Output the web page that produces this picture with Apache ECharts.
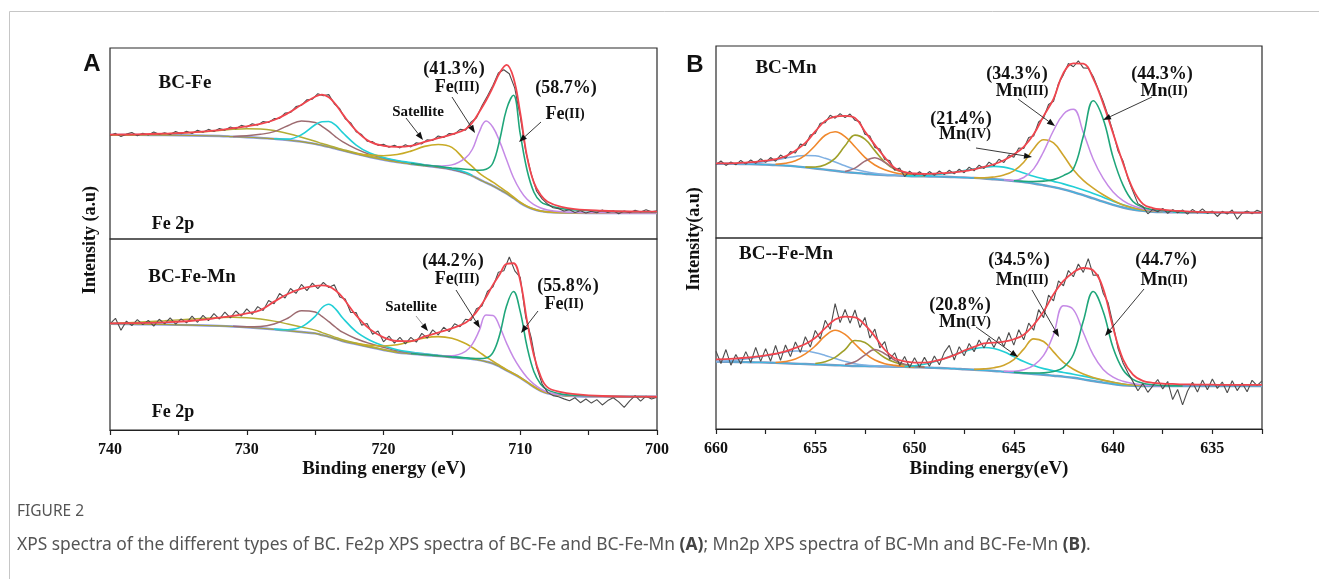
<!DOCTYPE html>
<html>
<head>
<meta charset="utf-8">
<script src="https://cdn.jsdelivr.net/npm/echarts@6.0.0/dist/echarts.min.js"></script>
<style>
  html, body { margin: 0; padding: 0; background: #fff; }
  #main { width: 1319px; height: 579px; }
</style>
</head>
<body>
<div id="main"></div>
<script>
// ---------------- data (intensity in % of each sub-panel height) ----------------
// Fe 2p fit curves, binding energy grid (eV)
var energyA = [740,738,736,734,732,731,730,729,728,727,726,725,724.5,724,723.5,723,722,721,720,719,718,717,716,715,714,713.5,713,712.5,712,711.5,711,710.5,710,709.5,709,708.5,708,707,706,704,702,700];

// BC-Fe (upper)
var bgA1    = [54.5,54.5,54.4,54.2,53.9,53.6,53.3,52.9,52.4,51.8,51.0,49.8,49.0,48.2,47.3,46.4,44.6,42.9,41.5,40.3,39.3,38.4,37.5,36.4,34.5,33.0,31.2,29.5,27.8,25.8,23.8,21.4,18.9,16.9,15.5,14.6,14.1,13.8,13.7,13.6,13.6,13.6];
var oliveA1 = [54.5,54.6,55.0,55.7,56.8,57.4,57.7,57.6,56.8,55.2,53.3,51.2,50.0,49.0,47.9,46.9,45.0,43.3,41.8,40.5,39.4,38.4,null,null,null,null,null,null,null,null,null,null,null,null,null,null,null,null,null,null,null,null];
var brownA1 = [null,null,null,null,null,53.7,54.0,54.8,56.2,59.3,61.8,61.0,59.0,56.5,53.5,51.0,47.2,44.3,42.4,40.9,39.7,38.6,37.7,36.5,34.6,null,null,null,null,null,null,null,null,null,null,null,null,null,null,null,null,null];
var cyanA1  = [null,null,null,null,null,null,null,null,52.5,52.3,54.6,59.8,61.4,61.5,59.6,55.8,49.2,45.0,42.7,41.1,40.0,38.9,38.0,36.8,35.0,33.3,null,null,null,null,null,null,null,null,null,null,null,null,null,null,null,null];
var satA1   = [null,null,null,null,null,null,null,null,null,null,null,null,null,null,null,null,44.8,44.0,43.6,44.2,46.0,48.5,49.5,48.0,41.0,37.9,34.5,32.0,29.8,27.3,24.8,22.0,19.3,17.2,15.7,14.7,14.2,13.8,13.7,13.6,13.6,13.6];
var fe3A1   = [null,null,null,null,null,null,null,null,null,null,null,null,null,null,null,null,null,null,null,null,39.5,38.8,38.2,38.8,42.5,47.0,56.0,61.8,58.5,51.0,41.5,32.2,25.5,20.8,18.0,16.2,15.2,14.3,13.9,13.7,13.6,13.6];
var fe2A1   = [null,null,null,null,null,null,null,null,null,null,null,null,null,null,null,null,null,null,null,null,39.5,38.7,38.0,37.2,36.5,36.2,36.0,36.5,39.8,52.0,68.0,75.3,55.0,36.0,24.5,19.5,17.8,16.0,15.2,14.6,14.3,14.2];
var fitA1   = [54.6,54.8,55.2,55.8,57.0,58.0,59.0,60.3,62.3,65.8,70.3,74.5,75.6,74.2,70.5,65.5,56.8,51.0,48.8,48.2,48.7,50.8,52.8,54.8,57.5,61.0,66.5,72.5,79.5,87.0,91.2,84.5,66.0,43.0,29.5,23.0,19.5,16.8,15.6,14.8,14.4,14.3];

// BC-Fe-Mn (lower)
var bgA2    = [55.6,55.4,55.2,54.9,54.5,54.2,53.8,53.3,52.7,52.0,51.3,50.6,49.7,48.8,47.7,46.6,45.0,43.4,41.9,40.6,39.9,39.3,38.7,38.1,37.5,37.1,36.6,35.8,34.8,33.2,31.2,29.4,27.4,25.0,22.5,20.5,19.2,18.1,17.7,17.5,17.4,17.4];
var oliveA2 = [55.8,56.4,57.2,58.1,58.8,59.0,58.8,58.1,57.0,55.5,53.9,52.3,51.0,49.8,48.5,47.3,45.5,43.8,42.2,40.8,null,null,null,null,null,null,null,null,null,null,null,null,null,null,null,null,null,null,null,null,null,null];
var brownA2 = [null,null,null,null,null,54.3,54.1,54.2,55.5,58.5,62.5,61.8,59.5,56.7,53.8,51.2,47.8,45.3,43.3,41.5,40.5,39.7,39.0,38.3,37.6,null,null,null,null,null,null,null,null,null,null,null,null,null,null,null,null,null];
var cyanA2  = [null,null,null,null,null,null,null,null,52.8,52.5,54.0,59.5,64.0,65.8,63.3,58.8,51.5,47.0,44.1,42.0,40.8,39.9,39.1,38.4,37.7,37.2,null,null,null,null,null,null,null,null,null,null,null,null,null,null,null,null];
var satA2   = [null,null,null,null,null,null,null,null,null,null,null,null,null,null,null,null,45.3,44.4,44.0,44.6,46.4,48.2,48.9,48.0,45.3,43.2,40.8,38.3,36.0,33.8,31.6,29.6,27.5,25.2,22.8,20.7,19.4,18.2,17.8,17.5,17.4,17.4];
var fe3A2   = [null,null,null,null,null,null,null,null,null,null,null,null,null,null,null,null,null,null,null,null,40.3,39.6,39.0,38.9,41.2,45.0,52.0,60.2,60.0,54.0,45.5,38.0,32.2,27.5,24.0,21.5,19.8,18.3,17.8,17.5,17.4,17.4];
var fe2A2   = [null,null,null,null,null,null,null,null,null,null,null,null,null,null,null,null,null,null,null,null,40.1,39.5,38.9,38.3,37.8,37.5,37.4,37.7,40.5,50.0,65.0,72.5,62.0,43.5,30.5,24.0,21.0,18.8,18.1,17.7,17.5,17.4];
var fitA2   = [55.8,56.0,56.4,57.2,58.8,59.8,61.0,62.8,67.2,71.2,74.0,75.4,75.7,75.2,73.0,69.5,60.0,52.8,48.5,46.6,46.5,49.0,51.0,53.2,56.2,59.3,63.8,69.5,76.0,81.5,87.0,87.3,78.0,57.0,39.0,28.0,22.3,19.8,18.8,17.8,17.5,17.4];

// measured Fe 2p counts, 740 -> 700 eV every 0.4 eV
var rawA1 = [54.2,55.3,53.6,54.9,55.8,54.1,55.4,54.5,56.0,54.8,55.6,54.7,56.3,55.1,56.4,55.2,56.9,55.9,57.4,56.3,
             57.8,57.0,58.6,57.7,59.5,58.6,60.3,59.6,61.5,61.0,63.0,63.1,65.9,66.2,69.3,70.0,72.9,73.2,76.1,75.0,
             75.6,70.8,68.2,62.9,60.8,56.2,54.7,51.2,51.0,49.0,49.6,48.0,49.1,47.7,49.3,48.2,50.4,49.8,52.0,51.6,
             53.9,53.1,55.2,54.9,57.4,57.0,61.2,63.5,69.8,74.9,80.4,86.9,88.6,86.5,79.0,64.2,46.0,34.1,25.0,21.0,
             18.3,16.4,15.9,14.7,15.3,13.9,14.8,13.6,14.5,13.7,15.2,13.9,14.8,13.2,14.6,13.8,15.0,14.1,15.3,14.2,14.8];
var rawA2 = [55.6,58.5,52.2,57.0,54.7,57.8,55.2,57.4,54.4,58.0,55.6,58.7,55.4,58.2,56.1,59.6,56.4,60.0,57.3,60.9,
             58.1,61.7,58.7,62.3,59.6,63.4,60.5,64.6,62.6,67.8,66.1,71.5,69.1,74.1,71.5,76.2,73.0,76.9,74.0,77.3,
             74.6,76.0,69.6,68.6,61.5,61.5,54.9,55.8,50.1,51.8,46.2,49.2,45.5,48.5,45.1,48.5,46.0,50.6,48.1,52.4,
             49.8,53.8,51.5,55.6,54.1,58.0,57.4,63.5,64.9,72.5,74.9,82.6,83.4,90.6,83.3,79.9,59.0,48.4,32.8,24.1,
             19.7,18.0,17.4,16.3,15.3,16.9,14.3,16.2,14.1,15.9,13.1,15.4,16.9,14.7,11.9,15.3,18.0,15.1,17.7,16.2,17.1];

// Mn 2p fit curves, 660 -> 632.5 eV every 0.5 eV
var energyB = [660,659.5,659,658.5,658,657.5,657,656.5,656,655.5,655,654.5,654,653.5,653,652.5,652,651.5,651,650.5,650,649.5,649,648.5,648,647.5,647,646.5,646,645.5,645,644.5,644,643.5,643,642.5,642,641.5,641,640.5,640,639.5,639,638.5,638,637.5,637,636.5,636,635.5,635,634.5,634,633.5,633,632.5];

// BC-Mn (upper)
var bgB1  = [38.7,38.7,38.6,38.5,38.4,38.2,38.0,37.7,37.3,36.8,36.2,35.6,35.0,34.4,33.9,33.5,33.1,32.8,32.6,32.4,32.2,32.1,32.0,31.9,31.7,31.5,31.3,31.0,30.6,30.2,29.7,29.1,28.4,27.5,26.5,25.3,23.9,22.3,20.6,18.9,17.3,15.9,14.8,14.1,13.7,13.5,13.4,13.3,13.3,13.2,13.2,13.2,13.2,13.2,13.2,13.2];
var lbB1  = [38.7,38.7,38.7,38.8,39.2,39.8,40.6,41.6,42.5,43.0,42.8,41.5,39.6,37.6,35.8,34.6,33.7,33.1,32.8,32.5,null,null,null,null,null,null,null,null,null,null,null,null,null,null,null,null,null,null,null,null,null,null,null,null,null,null,null,null,null,null,null,null,null,null,null,null];
var orB1  = [null,null,null,null,null,null,38.4,38.9,40.2,43.2,48.2,53.5,55.3,52.8,47.5,42.0,38.0,35.5,34.0,33.2,32.7,32.4,null,null,null,null,null,null,null,null,null,null,null,null,null,null,null,null,null,null,null,null,null,null,null,null,null,null,null,null,null,null,null,null,null,null];
var olB1  = [null,null,null,null,null,null,null,null,null,36.9,37.0,38.2,41.5,48.0,53.6,51.5,45.5,39.5,35.8,34.0,33.0,32.5,null,null,null,null,null,null,null,null,null,null,null,null,null,null,null,null,null,null,null,null,null,null,null,null,null,null,null,null,null,null,null,null,null,null];
var mvB1  = [null,null,null,null,null,null,null,null,null,null,null,null,null,34.6,36.4,40.0,41.8,39.4,36.2,34.2,33.1,32.5,null,null,null,null,null,null,null,null,null,null,null,null,null,null,null,null,null,null,null,null,null,null,null,null,null,null,null,null,null,null,null,null,null,null];
var cyB1  = [null,null,null,null,null,null,null,null,null,null,null,null,null,null,null,null,null,null,null,32.4,32.4,32.6,33.0,33.5,34.2,35.1,36.0,36.8,37.3,36.9,35.6,33.9,32.2,30.8,29.5,28.2,26.7,25.0,23.2,21.2,19.2,17.3,15.8,14.8,14.2,13.8,13.6,13.4,null,null,null,null,null,null,null,null];
var mn4B1 = [null,null,null,null,null,null,null,null,null,null,null,null,null,null,null,null,null,null,null,null,null,null,null,null,null,null,31.3,31.3,31.8,32.8,35.0,39.5,46.5,51.2,49.5,43.0,35.5,30.0,26.0,22.5,19.6,17.2,15.6,14.6,14.1,13.7,null,null,null,null,null,null,null,null,null,null];
var mn3B1 = [null,null,null,null,null,null,null,null,null,null,null,null,null,null,null,null,null,null,null,null,null,null,null,null,null,null,null,null,null,30.3,30.0,31.5,36.0,45.0,56.0,64.5,67.0,55.0,41.0,31.0,24.0,19.5,16.8,15.2,14.3,13.8,13.6,null,null,null,null,null,null,null,null,null];
var mn2B1 = [null,null,null,null,null,null,null,null,null,null,null,null,null,null,null,null,null,null,null,null,null,null,null,null,null,null,null,null,null,null,29.8,29.5,29.4,29.6,30.4,32.5,36.0,53.0,71.5,62.0,42.0,27.5,19.0,16.0,14.8,14.2,13.9,13.6,13.5,13.4,13.3,null,null,null,null,null];
var fitB1 = [38.9,38.9,39.0,39.3,39.7,40.3,41.1,42.6,45.5,49.5,55.5,61.0,63.2,63.6,62.5,55.5,48.5,42.0,36.5,34.3,33.6,33.4,33.5,33.8,34.2,34.8,35.8,37.0,38.4,40.5,43.5,47.5,54.0,63.5,72.5,86.0,91.0,90.8,83.0,70.0,54.5,39.0,25.5,17.8,15.6,14.8,14.3,14.0,13.7,13.5,13.4,13.3,13.3,13.2,13.2,13.2];

// BC--Fe-Mn (lower)
var bgB2  = [35.3,35.2,35.1,35.0,34.9,34.8,34.6,34.4,34.2,34.0,33.8,33.6,33.4,33.2,33.0,32.9,32.8,32.7,32.6,32.5,32.3,32.2,32.0,31.8,31.6,31.3,31.0,30.7,30.4,30.0,29.6,29.2,28.8,28.4,27.9,27.4,26.8,26.0,25.1,24.3,23.5,22.9,22.6,22.5,22.5,22.5,22.5,22.5,22.5,22.5,22.5,22.5,22.5,22.5,22.5,22.5];
var lbB2  = [35.4,35.6,36.0,36.6,37.4,38.3,39.3,40.3,40.9,40.8,39.9,38.5,36.9,35.4,34.2,33.5,33.1,32.9,32.7,32.6,null,null,null,null,null,null,null,null,null,null,null,null,null,null,null,null,null,null,null,null,null,null,null,null,null,null,null,null,null,null,null,null,null,null,null,null];
var orB2  = [null,null,null,null,null,null,34.8,35.3,36.6,39.3,43.5,48.7,51.7,49.5,44.5,39.6,36.1,34.2,33.3,32.8,32.4,null,null,null,null,null,null,null,null,null,null,null,null,null,null,null,null,null,null,null,null,null,null,null,null,null,null,null,null,null,null,null,null,null,null,null];
var olB2  = [null,null,null,null,null,null,null,null,null,null,34.3,35.2,37.5,41.6,46.3,45.3,41.2,37.3,34.9,33.6,32.9,32.3,null,null,null,null,null,null,null,null,null,null,null,null,null,null,null,null,null,null,null,null,null,null,null,null,null,null,null,null,null,null,null,null,null,null];
var mvB2  = [null,null,null,null,null,null,null,null,null,null,null,null,null,33.8,35.2,38.7,41.6,39.4,36.0,33.9,32.9,32.3,null,null,null,null,null,null,null,null,null,null,null,null,null,null,null,null,null,null,null,null,null,null,null,null,null,null,null,null,null,null,null,null,null,null];
var cyB2  = [null,null,null,null,null,null,null,null,null,null,null,null,null,null,null,null,null,null,null,32.7,33.1,33.9,35.2,36.9,38.8,40.6,42.0,42.7,42.1,40.4,37.9,35.3,33.2,31.6,30.5,29.6,28.7,27.7,26.6,25.5,24.5,23.6,23.0,22.7,null,null,null,null,null,null,null,null,null,null,null,null];
var mn4B2 = [null,null,null,null,null,null,null,null,null,null,null,null,null,null,null,null,null,null,null,null,null,null,null,null,null,null,31.2,31.5,32.1,33.4,36.3,41.8,47.2,45.8,40.4,34.9,31.3,28.8,27.0,25.6,24.5,23.6,23.0,22.7,null,null,null,null,null,null,null,null,null,null,null,null];
var mn3B2 = [null,null,null,null,null,null,null,null,null,null,null,null,null,null,null,null,null,null,null,null,null,null,null,null,null,null,null,null,null,30.2,30.2,31.0,33.3,38.5,49.5,64.5,62.5,50.5,38.8,31.2,27.2,25.0,23.8,23.1,22.8,22.6,null,null,null,null,null,null,null,null,null,null];
var mn2B2 = [null,null,null,null,null,null,null,null,null,null,null,null,null,null,null,null,null,null,null,null,null,null,null,null,null,null,null,null,null,null,29.7,29.4,29.3,29.4,30.1,32.3,39.0,56.5,72.0,61.5,42.5,31.0,26.0,24.0,23.2,22.8,22.7,22.6,null,null,null,null,null,null,null,null];
var fitB2 = [36.5,36.6,36.9,37.3,37.9,38.6,39.4,40.6,42.5,44.5,47.8,52.8,57.3,58.8,58.5,54.5,48.5,41.5,37.0,35.4,34.8,34.8,35.5,36.8,38.7,41.0,43.0,44.8,45.2,45.7,47.0,49.4,54.5,61.5,70.5,77.5,82.0,84.3,83.0,73.5,53.0,36.5,28.5,25.2,24.2,23.8,23.6,23.4,23.3,23.2,23.2,23.1,23.1,23.1,23.1,23.1];

// measured Mn 2p counts, 660 -> 632.5 eV every 0.25 eV
var rawB1 = [38.2,40.1,37.8,39.6,38.1,40.4,38.5,40.6,38.9,41.3,39.4,41.9,40.0,43.2,41.5,45.0,44.3,48.9,48.2,53.6,
             54.4,59.8,60.1,63.9,62.4,64.8,62.7,64.6,61.3,60.5,54.0,53.1,47.2,46.4,40.9,40.3,35.3,36.4,32.0,34.8,
             32.6,34.5,32.4,34.6,32.7,34.9,33.0,35.3,33.4,35.8,34.0,36.9,35.0,37.9,36.2,39.5,37.6,41.0,39.3,43.2,
             42.0,46.9,46.6,52.3,53.1,60.4,62.6,69.5,71.2,80.5,85.1,90.9,89.2,92.3,88.6,88.4,84.1,77.6,71.3,63.6,
             55.2,45.3,40.1,31.0,24.3,17.9,16.4,12.6,14.9,13.7,15.4,12.9,14.8,13.1,14.6,12.4,14.9,13.0,15.2,12.8,
             14.0,11.2,13.9,12.5,14.6,9.8,12.9,14.1,12.6,14.5,13.4];
var rawB2 = [40.7,34.3,41.6,33.4,39.0,34.1,40.5,34.8,42.7,35.4,42.1,35.5,43.7,35.9,44.0,37.9,45.6,40.1,48.3,42.9,
             51.6,47.2,56.9,52.2,65.6,55.7,62.6,55.4,62.3,53.1,58.4,47.6,52.3,42.5,45.7,36.4,39.9,33.3,38.0,32.2,
             37.3,32.5,37.5,32.8,38.2,33.6,40.1,43.8,36.1,43.1,38.3,44.8,40.4,46.6,42.4,47.6,42.7,48.3,43.1,50.5,
             43.9,52.0,46.7,55.4,51.7,62.5,58.3,70.1,67.1,77.5,75.0,83.0,79.7,86.4,82.0,89.2,80.5,80.7,71.1,66.1,
             54.8,42.1,34.6,29.4,24.8,20.0,23.8,19.2,22.6,25.9,21.0,24.9,15.4,20.7,12.6,19.9,24.5,19.4,25.6,20.6,
             26.2,21.2,24.6,19.0,25.3,20.1,24.1,19.5,25.5,22.7,25.2];

// ---------------- helpers ----------------
function sampling(start, step, n) {
  var a = [];
  for (var i = 0; i < n; i++) a.push(+(start - step * i).toFixed(2));
  return a;
}
var rawAx = sampling(740, 0.4, rawA1.length);
var rawBx = sampling(660, 0.25, rawB1.length);

function pairs(xs, ys) {
  var out = [];
  for (var i = 0; i < xs.length; i++) if (ys[i] !== null) out.push([xs[i], ys[i]]);
  return out;
}
function curve(g, xs, ys, color, width, smooth) {
  return {
    type: 'line', xAxisIndex: g, yAxisIndex: g, data: pairs(xs, ys),
    symbol: 'none', showSymbol: false, smooth: smooth, silent: true,
    lineStyle: { color: color, width: width }
  };
}

var RAW = '#4d4d4d', FIT = '#f0454e', GREEN = '#1fa67a', PURPLE = '#c58ae6', CYAN = '#22cfd6';
var series = [
  // BC-Fe
  curve(0, energyA, bgA1, '#8e9ce4', 2.4, 0.4),
  curve(0, energyA, bgA1, '#a4a03a', 1.1, 0.4),
  curve(0, energyA, oliveA1, '#b3ad35', 1.5, 0.4),
  curve(0, energyA, brownA1, '#9d6b70', 1.5, 0.4),
  curve(0, energyA, cyanA1, CYAN, 1.6, 0.4),
  curve(0, energyA, satA1, '#c8ab26', 1.6, 0.4),
  curve(0, energyA, fe3A1, PURPLE, 1.5, 0.4),
  curve(0, energyA, fe2A1, GREEN, 1.6, 0.4),
  curve(0, rawAx, rawA1, RAW, 1.1, false),
  curve(0, energyA, fitA1, FIT, 1.8, 0.4),
  // BC-Fe-Mn
  curve(1, energyA, bgA2, '#8e9ce4', 2.4, 0.4),
  curve(1, energyA, bgA2, '#a4a03a', 1.1, 0.4),
  curve(1, energyA, oliveA2, '#b3ad35', 1.5, 0.4),
  curve(1, energyA, brownA2, '#9d6b70', 1.5, 0.4),
  curve(1, energyA, cyanA2, CYAN, 1.6, 0.4),
  curve(1, energyA, satA2, '#c8ab26', 1.6, 0.4),
  curve(1, energyA, fe3A2, PURPLE, 1.5, 0.4),
  curve(1, energyA, fe2A2, GREEN, 1.6, 0.4),
  curve(1, rawAx, rawA2, RAW, 1.1, false),
  curve(1, energyA, fitA2, FIT, 1.8, 0.4),
  // BC-Mn
  curve(2, energyB, bgB1, '#8797bd', 2.4, 0.4),
  curve(2, energyB, bgB1, '#3fb6e2', 1.1, 0.4),
  curve(2, energyB, lbB1, '#7fb0e2', 1.5, 0.4),
  curve(2, energyB, orB1, '#f0882c', 1.6, 0.4),
  curve(2, energyB, olB1, '#9fa02a', 1.6, 0.4),
  curve(2, energyB, mvB1, '#a06e78', 1.5, 0.4),
  curve(2, energyB, cyB1, CYAN, 1.6, 0.4),
  curve(2, energyB, mn4B1, '#cfa52c', 1.6, 0.4),
  curve(2, energyB, mn3B1, PURPLE, 1.5, 0.4),
  curve(2, energyB, mn2B1, GREEN, 1.6, 0.4),
  curve(2, rawBx, rawB1, RAW, 1.1, false),
  curve(2, energyB, fitB1, FIT, 1.8, 0.4),
  // BC--Fe-Mn
  curve(3, energyB, bgB2, '#8797bd', 2.4, 0.4),
  curve(3, energyB, bgB2, '#3fb6e2', 1.1, 0.4),
  curve(3, energyB, lbB2, '#7fb0e2', 1.5, 0.4),
  curve(3, energyB, orB2, '#f0882c', 1.6, 0.4),
  curve(3, energyB, olB2, '#9fa02a', 1.6, 0.4),
  curve(3, energyB, mvB2, '#a06e78', 1.5, 0.4),
  curve(3, energyB, cyB2, CYAN, 1.6, 0.4),
  curve(3, energyB, mn4B2, '#cfa52c', 1.6, 0.4),
  curve(3, energyB, mn3B2, PURPLE, 1.5, 0.4),
  curve(3, energyB, mn2B2, GREEN, 1.6, 0.4),
  curve(3, rawBx, rawB2, RAW, 1.1, false),
  curve(3, energyB, fitB2, FIT, 1.8, 0.4)
];

// ---------------- axes ----------------
var SERIF = '"Liberation Serif", "Times New Roman", serif';
var boxes = [
  { left: 110, top: 48, width: 547, height: 191 },
  { left: 110, top: 239, width: 547, height: 191 },
  { left: 716, top: 46, width: 546, height: 192 },
  { left: 716, top: 238, width: 546, height: 191 }
];
function xAxisFor(g, min, max, step, every, shown) {
  return {
    type: 'value', gridIndex: g, min: min, max: max, interval: step, inverse: true,
    show: shown,
    axisLine: { show: true, onZero: false, lineStyle: { color: '#222', width: 1.2 } },
    axisTick: { show: true, length: 5, lineStyle: { color: '#222', width: 1.2 } },
    axisLabel: {
      show: true, margin: 12, color: '#111', fontFamily: SERIF, fontWeight: 'bold', fontSize: 16,
      showMinLabel: true, showMaxLabel: true,
      formatter: function (v) { return Math.abs(v % every) < 1e-6 ? String(v) : ''; }
    },
    splitLine: { show: false }
  };
}

// ---------------- annotations ----------------
function txt(x, y, text, size, o) {
  o = o || {};
  return {
    type: 'text', x: x, y: y, rotation: o.rot || 0, z: 120, silent: true,
    style: {
      text: text, fill: o.color || '#111', fontSize: size,
      fontWeight: o.weight || 'bold', fontFamily: o.family || SERIF,
      align: o.align || 'center', verticalAlign: 'middle',
      textAlign: o.align || 'center', textVerticalAlign: 'middle',
      rich: o.rich
    }
  };
}
function ion(x, y, el, num) {
  return txt(x, y, '{m|' + el + '}{s|(' + num + ')}', 18, {
    rich: {
      m: { fontSize: 18, fontWeight: 'bold', fontFamily: SERIF, fill: '#111' },
      s: { fontSize: 14, fontWeight: 'bold', fontFamily: SERIF, fill: '#111' }
    }
  });
}
function arrow(x1, y1, x2, y2, stroke) {
  var dx = x2 - x1, dy = y2 - y1, L = Math.sqrt(dx * dx + dy * dy);
  var ux = dx / L, uy = dy / L, hl = 8, hw = 3;
  var bx = x2 - ux * hl, by = y2 - uy * hl;
  return [
    { type: 'line', z: 118, silent: true, shape: { x1: x1, y1: y1, x2: bx, y2: by },
      style: { stroke: stroke || '#3a3a3a', lineWidth: 1 } },
    { type: 'polygon', z: 119, silent: true,
      shape: { points: [[x2, y2], [bx - uy * hw, by + ux * hw], [bx + uy * hw, by - ux * hw]] },
      style: { fill: '#111' } }
  ];
}

var SANS = '"Liberation Sans", Arial, sans-serif';
var CAP = '"Noto Sans", sans-serif';
var notes = [
  { type: 'rect', z: 0, silent: true, shape: { x: 9.5, y: 11.5, width: 1400, height: 700 },
    style: { fill: 'none', stroke: '#c6c6c6', lineWidth: 1 } },
  txt(92, 64, 'A', 24, { family: SANS }),
  txt(695, 65, 'B', 24, { family: SANS }),
  txt(90, 240, 'Intensity (a.u)', 18, { rot: Math.PI / 2 }),
  txt(694, 239, 'Intensity(a.u)', 18, { rot: Math.PI / 2 }),
  txt(384, 469, 'Binding energy (eV)', 19),
  txt(989, 469, 'Binding energy(eV)', 19),

  txt(185, 83, 'BC-Fe', 19),
  txt(454, 69, '(41.3%)', 18), ion(457, 87, 'Fe', 'III'),
  txt(566, 88, '(58.7%)', 18), ion(565, 114, 'Fe', 'II'),
  txt(418, 112, 'Satellite', 15),
  txt(173, 224, 'Fe 2p', 18),

  txt(192, 277, 'BC-Fe-Mn', 19),
  txt(453, 261, '(44.2%)', 18), ion(457, 279, 'Fe', 'III'),
  txt(568, 286, '(55.8%)', 18), ion(564, 304, 'Fe', 'II'),
  txt(411, 307, 'Satellite', 15),
  txt(173, 412, 'Fe 2p', 18),

  txt(786, 68, 'BC-Mn', 19),
  txt(1017, 74, '(34.3%)', 18), ion(1022, 91, 'Mn', 'III'),
  txt(1162, 74, '(44.3%)', 18), ion(1164, 91, 'Mn', 'II'),
  txt(961, 119, '(21.4%)', 18), ion(965, 134, 'Mn', 'IV'),

  txt(786, 254, 'BC--Fe-Mn', 19),
  txt(1019, 260, '(34.5%)', 18), ion(1022, 280, 'Mn', 'III'),
  txt(1166, 260, '(44.7%)', 18), ion(1164, 280, 'Mn', 'II'),
  txt(960, 305, '(20.8%)', 18), ion(965, 322, 'Mn', 'IV'),

  txt(17, 512, 'FIGURE 2', 15.5, { align: 'left', weight: 'normal', family: CAP, color: '#555' }),
  txt(17, 545, 'XPS spectra of the different types of BC. Fe2p XPS spectra of BC-Fe and BC-Fe-Mn {b|(A)}; Mn2p XPS spectra of BC-Mn and BC-Fe-Mn {b|(B)}.', 17.4,
      { align: 'left', weight: 'normal', family: CAP, color: '#555',
        rich: { b: { fontSize: 17.4, fontWeight: 'bold', fontFamily: CAP, fill: '#444' } } })
]
  .concat(arrow(406, 118, 423, 140))
  .concat(arrow(452, 97, 475, 133))
  .concat(arrow(541, 122, 519, 142))
  .concat(arrow(416, 316, 428, 331, '#9a9a9a'))
  .concat(arrow(456, 290, 480, 328))
  .concat(arrow(538, 311, 521, 333))
  .concat(arrow(976, 148, 1032, 157))
  .concat(arrow(1018, 99, 1055, 126))
  .concat(arrow(1152, 97, 1103, 120))
  .concat(arrow(976, 327, 1018, 357))
  .concat(arrow(1032, 290, 1059, 337))
  .concat(arrow(1144, 289, 1105, 336));

var chart = echarts.init(document.getElementById('main'));
chart.setOption({
  backgroundColor: '#fff',
  animation: false,
  grid: boxes.map(function (b) {
    return Object.assign({ show: true, borderColor: '#2a2a2a', borderWidth: 1.2, backgroundColor: 'transparent' }, b);
  }),
  xAxis: [
    xAxisFor(0, 700, 740, 5, 10, false),
    xAxisFor(1, 700, 740, 5, 10, true),
    xAxisFor(2, 632.5, 660, 2.5, 5, false),
    xAxisFor(3, 632.5, 660, 2.5, 5, true)
  ],
  yAxis: [0, 1, 2, 3].map(function (g) {
    return { type: 'value', gridIndex: g, min: 0, max: 100, show: false };
  }),
  series: series,
  graphic: { elements: notes }
});
</script>
</body>
</html>
